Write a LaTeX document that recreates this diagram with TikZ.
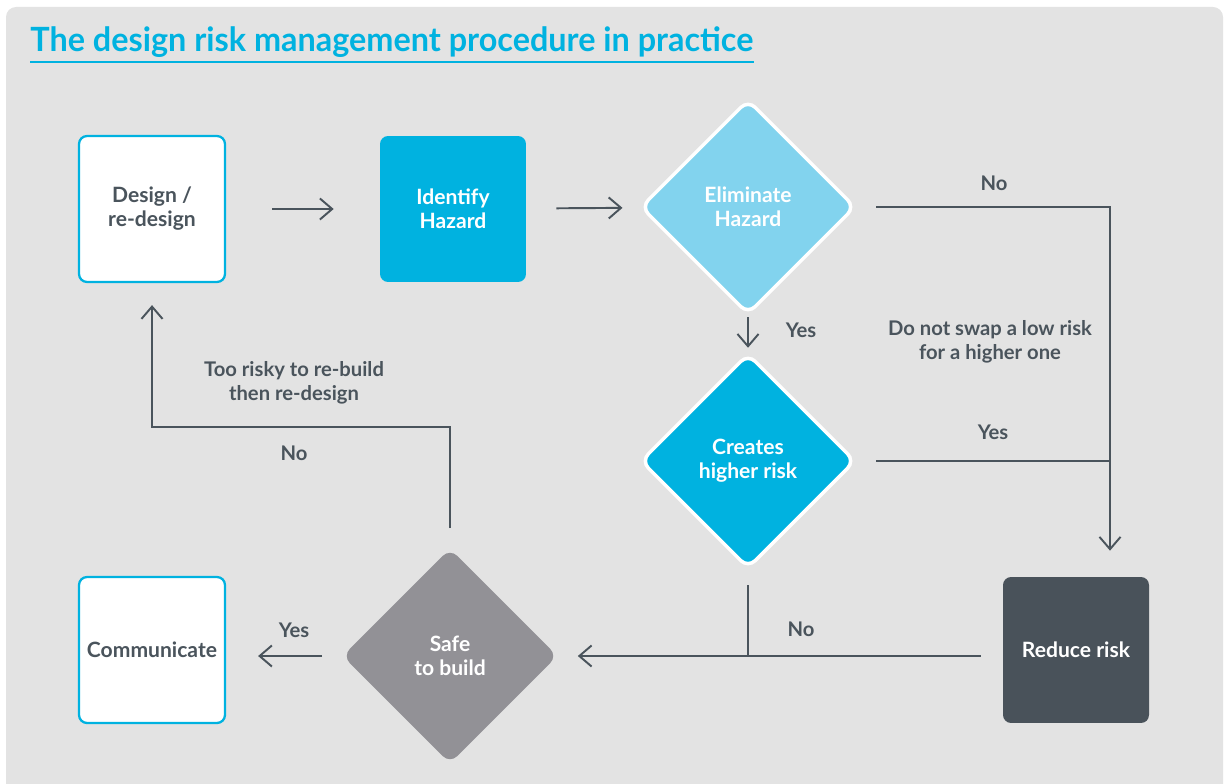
\documentclass[tikz,border=0pt]{standalone}
\usepackage{fontspec}
\setmainfont{Lato}
\usetikzlibrary{shapes.geometric,arrows.meta}
\definecolor{bgc}{HTML}{E3E3E3}
\definecolor{cyanc}{HTML}{00B2E0}
\definecolor{lightc}{HTML}{82D3EE}
\definecolor{greyc}{HTML}{929196}
\definecolor{darkc}{HTML}{49525A}
\definecolor{inkc}{HTML}{4A545C}
\begin{document}
\begin{tikzpicture}
			[x=0.02cm,y=-0.02cm,
			box/.style={rectangle, rounded corners=0.16cm, minimum width=2.92cm, minimum height=2.92cm, align=center, font=\bfseries\fontsize{12}{13.6}\selectfont},
			boxw/.style={box, draw=cyanc, line width=1.3pt, fill=white, text=inkc},
			boxc/.style={box, fill=cyanc, text=white},
			boxd/.style={box, fill=darkc, text=white},
			choice/.style={diamond, shape aspect=1, rounded corners=0.2cm, minimum width=4.3cm, minimum height=4.3cm, inner sep=0pt, align=center, text=white, font=\bfseries\fontsize{12}{13.6}\selectfont},
			lbl/.style={align=center, text=inkc, font=\bfseries\fontsize{11.5}{13.6}\selectfont},
			line/.style={draw=inkc, line width=1.1pt},
			arr/.style={line, -{Straight Barb[length=7pt,width=12pt]}}]
			\useasboundingbox (0,0) rectangle (1227,784);
			\fill[bgc, rounded corners=0.2cm] (6,7) rectangle (1223,800);
			\node (title)[anchor=base west, inner sep=0pt, text=cyanc, font=\bfseries\fontsize{19}{22}\selectfont] at (30,52) {\scalebox{0.97}[1]{The design risk management procedure in practice}};
			\draw[cyanc, line width=1pt] ([yshift=-2pt]title.south west) -- ([yshift=-2pt]title.south east);
			\node (design)[boxw] at (152,209) {Design /\\re-design};
			\node (identify)[boxc] at (453,209) {Identify\\Hazard};
			\node (elim)[choice, fill=lightc, draw=white, line width=2pt] at (748,207) {Eliminate\\Hazard};
			\node (creates)[choice, fill=cyanc, draw=white, line width=2pt] at (748,461) {Creates\\higher risk};
			\node (reduce)[boxd] at (1076,650) {Reduce risk};
			\node (safe)[choice, fill=greyc] at (450,656) {Safe\\to build};
			\node (comm)[boxw] at (152,650) {Communicate};
			\coordinate (joint) at (1110,461);
			\coordinate (back) at (300,427);
			\draw[arr, shorten <=0.92cm, shorten >=0.92cm] (design) -- (identify);
			\draw[arr, shorten <=0.6cm, shorten >=0.34cm] (identify) -- (elim);
			\draw[arr, shorten <=0.38cm, shorten >=0.52cm] (elim.east) -| ([xshift=0.68cm]reduce.north);
			\draw[arr, shorten <=0.02cm, shorten >=0.08cm] (elim) -- (creates);
			\draw[line, shorten <=0.38cm] (creates.east) -- (joint);
			\draw[arr, shorten <=0.44cm, shorten >=0.4cm] (reduce.west |- safe.east) -- (safe.east);
			\draw[line, shorten <=0.3cm] (creates.south) -- (creates.south |- safe.east);
			\draw[arr, shorten <=0.4cm, shorten >=0.64cm] (safe.west) -- (safe.west -| comm.east);
			\draw[arr, shorten <=0.4cm, shorten >=0.44cm] (safe.north) |- (back) -| (design.south);
			\node (lno1)[lbl] at (994,183) {No};
			\node (lswap)[lbl] at (990,342) {Do not swap a low risk\\for a higher one};
			\node (lyes1)[lbl] at (801,330) {Yes};
			\node (lyes2)[lbl] at (993,432) {Yes};
			\node (lno2)[lbl] at (801,629) {No};
			\node (lyes3)[lbl] at (294,630) {Yes};
			\node (lrisky)[lbl] at (294,383) {Too risky to re-build\\then re-design};
			\node (lno3)[lbl] at (294,453) {No};
\end{tikzpicture}
\end{document}
